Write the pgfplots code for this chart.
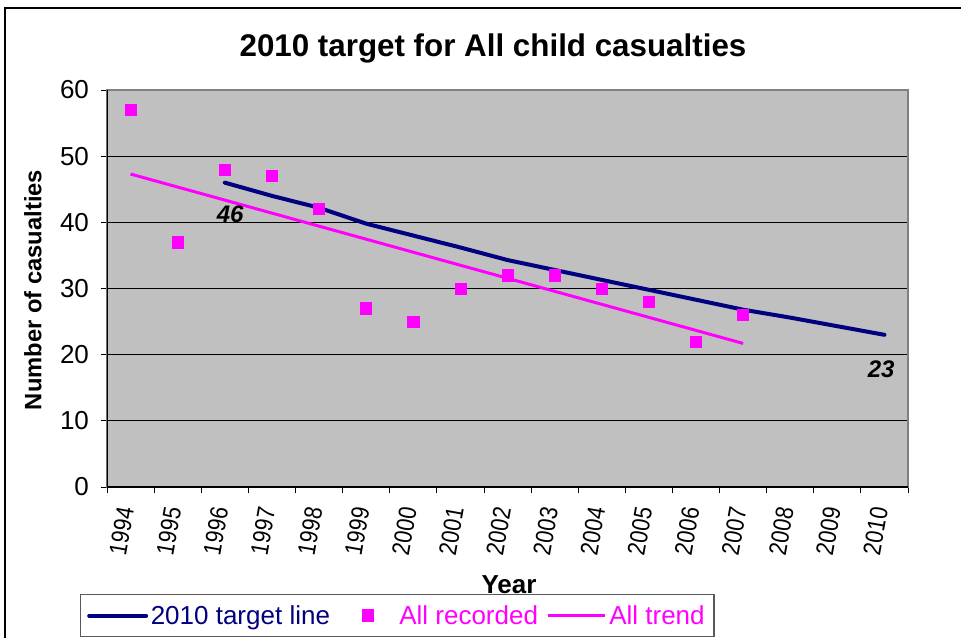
\documentclass[border=0pt]{standalone}
\usepackage{fontspec}
\setmainfont{Liberation Sans}
\newfontfamily\narrowsans{Liberation Sans}[FakeStretch=0.86]
\usepackage{pgfplots}
\pgfplotsset{compat=1.18}
\definecolor{targetnavy}{HTML}{000080}
\definecolor{recmag}{HTML}{FF00FF}
\definecolor{plotgrey}{HTML}{C0C0C0}

\begin{document}
\begin{tikzpicture}
\begin{scope}[x=0.75pt,y=0.75pt]
\useasboundingbox (0,0) rectangle (961,637);
% outer chart frame
\draw[line width=1.1pt] (5,-10) -- (5,629) -- (975,629);
\node[font=\fontsize{23.5}{28}\selectfont\bfseries] at (493,589) {2010 target for All child casualties};
\node[font=\fontsize{17.8}{20}\selectfont\bfseries, rotate=90] at (33,347) {Number of casualties};
\node[font=\fontsize{19.5}{22}\selectfont\bfseries] at (509,52) {Year};
\end{scope}
\begin{axis}[
  at={(80.25pt,112.5pt)}, anchor=south west,
  scale only axis, width=600.75pt, height=297.75pt,
  xmin=-0.5, xmax=16.5, ymin=0, ymax=60,
  axis background/.style={fill=plotgrey},
  axis line style={draw=gray, line width=0.8pt},
  ymajorgrids, grid style={black, line width=0.6pt},
  ytick={0,10,...,60},
  xtick={0,...,16},
  xticklabels={1994,1995,1996,1997,1998,1999,2000,2001,2002,2003,2004,2005,2006,2007,2008,2009,2010},
  minor xtick={-0.5,0.5,...,16.5},
  major x tick style={draw=none},
  tick align=outside, tick pos=left,
  major tick length=4.5pt, minor tick length=4.5pt,
  tick style={black, line width=0.6pt},
  /pgf/number format/assume math mode=true,
  yticklabel style={font=\fontsize{19.5}{20}\selectfont, xshift=-5.5pt},
  xticklabel style={font=\narrowsans\fontsize{18.75}{20}\selectfont, xshift=-3pt, yshift=-7.5pt, rotate=80, anchor=east},
  legend columns=3,
  legend style={at={(-0.0337,-0.2695)}, anchor=north west, draw=gray!70!black, line width=0.8pt, fill=white,
    font=\fontsize{19.5}{22}\selectfont, inner xsep=5pt, inner ysep=6pt,
    nodes={inner xsep=2pt},
    /tikz/every even column/.append style={column sep=4.5pt}},
  legend image code/.code={%
    \path (0cm,0cm) (1.5cm,0cm);
    \draw[mark repeat=2, mark phase=2, #1] plot coordinates {(0cm,0cm) (0.75cm,0cm) (1.5cm,0cm)};},
]
% 2010 target line
\addplot[targetnavy, line width=3pt, line join=round, line cap=round] coordinates {
  (2,46) (3,44) (4,42.2) (5,39.8) (6,38) (7,36.2) (8,34.3) (9,32.8)
  (10,31.3) (11,29.8) (12,28.3) (13,26.8) (14,25.6) (15,24.3) (16,23)};
\addlegendentry{\textcolor{targetnavy}{2010 target line}\rule[-16pt]{0pt}{1pt}}
% recorded casualties
\addplot[only marks, mark=square*, mark size=4.2pt, recmag, mark options={draw=recmag, fill=recmag}] coordinates {
  (0,57) (1,37) (2,48) (3,47) (4,42) (5,27) (6,25) (7,30)
  (8,32) (9,32) (10,30) (11,28) (12,22) (13,26)};
\addlegendentry{\textcolor{recmag}{All recorded}}
% linear trend of the recorded values
\addplot[recmag, line width=2.25pt] coordinates {(0,47.3) (13,21.7)};
\addlegendentry{\textcolor{recmag}{All trend}}
% left and bottom axis lines in black
\draw[black, line width=0.8pt] (rel axis cs:0,1) -- (rel axis cs:0,0) -- (rel axis cs:1,0);
% value labels at the ends of the target line
\node[font=\fontsize{18}{20}\selectfont\bfseries\itshape] at (axis cs:2,46) [xshift=4pt, yshift=-23.5pt] {46};
\node[font=\fontsize{18}{20}\selectfont\bfseries\itshape] at (axis cs:16,23) [xshift=-2.5pt, yshift=-26pt] {23};
\end{axis}
\end{tikzpicture}
\end{document}
